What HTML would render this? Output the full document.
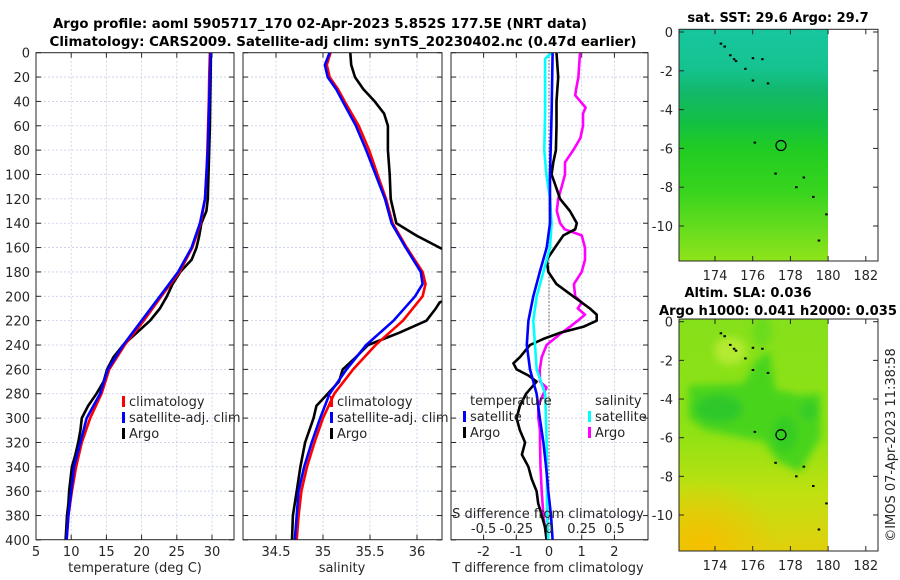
<!DOCTYPE html>
<html><head><meta charset="utf-8"><style>
html,body{margin:0;padding:0;background:#fff;}
svg{display:block;font-family:"DejaVu Sans","Liberation Sans",sans-serif;}
</style></head><body>
<svg id="chart" width="900" height="580" viewBox="0 0 900 580" xmlns="http://www.w3.org/2000/svg">
<defs>
<clipPath id="c1"><rect x="36" y="52.7" width="198" height="487"/></clipPath>
<clipPath id="c2"><rect x="243" y="52.7" width="199" height="487"/></clipPath>
<clipPath id="c3"><rect x="451" y="52.7" width="197" height="487"/></clipPath>
<clipPath id="cm1"><rect x="679" y="29.3" width="149" height="231.7"/></clipPath>
<clipPath id="cm2"><rect x="679" y="319" width="149" height="232"/></clipPath>
<linearGradient id="g1" x1="0" y1="0" x2="0" y2="1">
<stop offset="0" stop-color="#17c69e"/><stop offset="0.17" stop-color="#15c390"/>
<stop offset="0.27" stop-color="#12b86a"/><stop offset="0.4" stop-color="#12c044"/>
<stop offset="0.52" stop-color="#22cc22"/><stop offset="0.7" stop-color="#38d41e"/>
<stop offset="0.86" stop-color="#66dc1e"/><stop offset="1" stop-color="#90e41a"/>
</linearGradient>
<linearGradient id="g2" x1="0" y1="0" x2="0" y2="1">
<stop offset="0" stop-color="#86e01a"/><stop offset="0.5" stop-color="#90e214"/>
<stop offset="0.75" stop-color="#c0e010"/><stop offset="1" stop-color="#e0d00c"/>
</linearGradient>
<radialGradient id="g3" cx="0.15" cy="0.95" r="0.5">
<stop offset="0" stop-color="#f4c000"/><stop offset="1" stop-color="#f4c000" stop-opacity="0"/>
</radialGradient>
<filter id="blur"><feGaussianBlur stdDeviation="4"/></filter>
</defs>
<g id="root"></g>
</svg>
<script>
// ---------- data ----------
const depthClim = [0,20,40,60,80,100,120,140,160,180,200,220,240,260,280,300,320,340,360,380,400];
const climT = [29.7,29.6,29.55,29.45,29.35,29.2,29.0,28.4,27.2,25.4,22.8,20.3,17.6,15.4,14.3,12.7,11.5,10.7,10.1,9.6,9.35];
const satT = [29.8,29.7,29.6,29.5,29.4,29.2,29.0,28.3,27.1,25.2,22.6,20.0,17.4,15.2,14.1,12.2,11.3,10.4,10.0,9.6,9.35];
const depthArgoT = [0,20,40,60,80,100,120,130,140,150,160,170,180,190,200,210,220,230,240,250,260,270,280,290,300,310,320,330,340,350,360,370,380,390,400];
const argoT = [29.85,29.8,29.75,29.7,29.6,29.5,29.4,29.2,28.5,28.2,27.8,27.1,25.5,24.4,23.6,22.6,21.2,19.3,17.4,16.0,15.1,14.6,13.6,12.4,11.5,11.3,11.0,10.6,10.1,9.9,9.7,9.6,9.4,9.3,9.2];

const depthS = [0,10,20,30,40,60,80,100,120,140,160,180,190,200,220,240,260,280,300,320,340,360,380,400];
const satS = [35.07,35.02,35.05,35.14,35.21,35.35,35.46,35.56,35.66,35.73,35.88,36.04,36.06,35.98,35.75,35.46,35.25,35.07,34.97,34.88,34.80,34.74,34.72,34.70];
const climS = [35.08,35.04,35.07,35.16,35.23,35.38,35.49,35.58,35.67,35.74,35.89,36.06,36.09,36.06,35.85,35.56,35.32,35.12,35.0,34.91,34.83,34.77,34.74,34.72];
const depthArgoS = [0,10,20,30,40,50,60,80,100,120,140,150,160,170,180,190,200,205,210,220,230,240,250,260,270,280,290,300,320,340,360,380,400];
const argoS = [35.29,35.30,35.34,35.43,35.55,35.65,35.69,35.69,35.71,35.72,35.78,35.99,36.24,36.5,36.6,36.6,36.4,36.24,36.2,36.1,35.81,35.48,35.35,35.21,35.17,35.05,34.93,34.9,34.81,34.76,34.72,34.68,34.67];

const depthDT = [0,20,40,60,80,90,100,110,120,130,140,145,150,160,170,180,190,200,210,215,220,225,230,235,240,250,255,260,265,270,280,290,300,310,320,330,340,350,360,370,380,390,400];
const argoDT = [0.23,0.28,0.23,0.23,0.21,0.13,0.08,0.21,0.34,0.64,0.85,0.80,0.44,0.18,-0.07,-0.02,0.23,0.74,1.25,1.46,1.46,1.05,0.34,-0.17,-0.58,-0.89,-1.09,-0.99,-0.63,-0.38,-0.7,-0.89,-0.99,-0.89,-0.73,-0.83,-0.63,-0.53,-0.38,-0.33,-0.22,-0.12,-0.07];
const depthSatDT = [0,50,100,140,160,180,200,220,240,260,280,300,320,340,360,380,400];
const satDT = [0.11,0.08,0.03,0.03,-0.07,-0.28,-0.48,-0.63,-0.68,-0.58,-0.38,-0.28,-0.17,-0.09,-0.02,0.06,0.11];
const depthSatDS = [0,5,20,50,80,100,120,140,160,180,200,220,240,260,280,300,320,340,360,380,400];
const satDS = [0.02,-0.03,-0.03,-0.03,-0.036,-0.02,0.008,0.02,0.008,-0.043,-0.094,-0.12,-0.107,-0.094,-0.03,-0.023,-0.018,-0.015,-0.015,-0.015,-0.005];
const depthArgoDS = [0,20,30,35,45,50,60,70,80,90,100,110,120,130,140,145,150,160,170,180,190,200,205,210,215,220,225,230,240,250,260,270,275,280,290,300,310,320,340,360,380,400];
const argoDS = [0.237,0.225,0.207,0.2,0.28,0.26,0.26,0.24,0.186,0.122,0.122,0.097,0.07,0.06,0.085,0.12,0.25,0.275,0.275,0.25,0.19,0.2,0.25,0.22,0.275,0.22,0.16,0.097,-0.018,-0.056,-0.07,-0.069,-0.018,-0.043,-0.082,-0.082,-0.069,-0.069,-0.065,-0.056,-0.043,-0.018];

const depthTicks = [0,20,40,60,80,100,120,140,160,180,200,220,240,260,280,300,320,340,360,380,400];
const tempTicks = [5,10,15,20,25,30];
const salTicks = [34.5,35,35.5,36];
const dTTicks = [-2,-1,0,1,2];
const dSTickLabels = ['-0.5','-0.25','0','0.25','0.5'];
const dSTicks = [-0.5,-0.25,0,0.25,0.5];
const latTicks = [0,-2,-4,-6,-8,-10];
const lonTicks = [174,176,178,180,182];
const argoPos = [177.5,-5.85];
const coastDots = [[174.3,-0.6],[174.5,-0.75],[174.8,-1.2],[175.0,-1.4],[175.1,-1.5],[176.0,-1.35],[176.5,-1.4],[175.6,-1.9],[176.0,-2.5],[176.8,-2.65],[176.1,-5.7],[177.2,-7.3],[178.7,-7.5],[178.3,-8.0],[179.2,-8.5],[179.9,-9.4],[179.5,-10.75]];

// ---------- scales ----------
const yD = d => 52.7 + d*1.218;
const xT = t => 36 + (t-5)*7.04;
const xS = s => 276 + (s-34.5)*94;
const xDT = t => 549 + t*32.7;
const xDS = s => 549 + s*130.8;
const lonX = l => 715 + (l-174)*18.85;
const latY1 = a => 32 + (-a)*19.4;
const latY2 = a => 321.7 + (-a)*19.33;

const NS='http://www.w3.org/2000/svg';
const root=document.getElementById('root');
function mk(tag,attrs,parent){const e=document.createElementNS(NS,tag);for(const k in attrs)e.setAttribute(k,attrs[k]);(parent||root).appendChild(e);return e;}
function txt(s,x,y,opt,parent){const e=mk('text',Object.assign({x:x,y:y,'font-size':13,fill:'#262626'},opt||{}),parent);e.textContent=s;return e;}

function panel(name,x0,x1,clip,xticks,xf,labels){
  const g=mk('g',{});
  
  
  const y0=52.7,y1=539.7;
  xticks.forEach(t=>{const l=mk('line',{x1:xf(t),x2:xf(t),y1:y0,y2:y1,stroke:'#c4cde8','stroke-width':0.8,'stroke-dasharray':'2,2'},g);});
  depthTicks.forEach(d=>{const l=mk('line',{x1:x0,x2:x1,y1:yD(d),y2:yD(d),stroke:'#c4cde8','stroke-width':0.8,'stroke-dasharray':'2,2'},g);
    mk('line',{x1:x0,x2:x0+5,y1:yD(d),y2:yD(d),stroke:'#262626'},g);mk('line',{x1:x1-5,x2:x1,y1:yD(d),y2:yD(d),stroke:'#262626'},g);});
  xticks.forEach((t,i)=>{mk('line',{x1:xf(t),x2:xf(t),y1:y1-5,y2:y1,stroke:'#262626'},g);mk('line',{x1:xf(t),x2:xf(t),y1:y0,y2:y0+5,stroke:'#262626'},g);
    const tl=txt(labels[i],xf(t),556,{'text-anchor':'middle'},g);});
  const inner=mk('g',{'clip-path':'url(#'+clip+')'},g);
  return {g:g,inner:inner,frame:()=>mk('rect',{x:x0,y:y0,width:x1-x0,height:y1-y0,fill:'none',stroke:'#262626','stroke-width':1},g)};
}
function line(parent,name,xs,ds,xf,color,w){
  const pts=xs.map((v,i)=>xf(v).toFixed(1)+','+yD(ds[i]).toFixed(1)).join(' ');
  const p=mk('polyline',{points:pts,fill:'none',stroke:color,'stroke-width':w||2.6,'stroke-linejoin':'round'},parent);
  
  
}
function legend(parent,x,y,items){
  items.forEach((it,i)=>{mk('rect',{x:x,y:y+i*16-10,width:3,height:11,fill:it[1]},parent);
    const t=txt(it[0],x+7,y+i*16,{},parent);});
}

// titles
let t=txt('Argo profile: aoml 5905717_170 02-Apr-2023 5.852S 177.5E (NRT data)',320,28,{'text-anchor':'middle','font-weight':'bold','fill':'#000',textLength:534,lengthAdjust:'spacingAndGlyphs'});

t=txt('Climatology: CARS2009. Satellite-adj clim: synTS_20230402.nc (0.47d earlier)',343,46,{'text-anchor':'middle','font-weight':'bold','fill':'#000',textLength:587,lengthAdjust:'spacingAndGlyphs'});


// panel 1
const p1=panel('temperature-panel',36,234,'c1',tempTicks,xT,tempTicks.map(String));
depthTicks.forEach(d=>{const l=txt(String(d),30,yD(d)+5,{'text-anchor':'end'});});
line(p1.inner,'argo-temperature-line',argoT,depthArgoT,xT,'#000');
line(p1.inner,'climatology-temperature-line',climT,depthClim,xT,'#f00');
line(p1.inner,'satellite-temperature-line',satT,depthClim,xT,'#00f');
p1.frame();
t=txt('temperature (deg C)',135,572,{'text-anchor':'middle'});
legend(p1.g,122,406,[['climatology','#f00'],['satellite-adj. clim','#00f'],['Argo','#000']]);

// panel 2
const p2=panel('salinity-panel',243,442,'c2',salTicks,xS,['34.5','35','35.5','36']);
line(p2.inner,'argo-salinity-line',argoS,depthArgoS,xS,'#000');
line(p2.inner,'climatology-salinity-line',climS,depthS,xS,'#f00');
line(p2.inner,'satellite-salinity-line',satS,depthS,xS,'#00f');
p2.frame();
t=txt('salinity',342,572,{'text-anchor':'middle'});
legend(p2.g,330,406,[['climatology','#f00'],['satellite-adj. clim','#00f'],['Argo','#000']]);

// panel 3
const p3=panel('difference-panel',451,648,'c3',dTTicks,xDT,dTTicks.map(String));
mk('line',{x1:xDT(0),x2:xDT(0),y1:52.7,y2:539.7,stroke:'#555','stroke-width':1,'stroke-dasharray':'1.5,2'},p3.inner);
line(p3.inner,'argo-salinity-diff-line',argoDS,depthArgoDS,xDS,'#f0f');
line(p3.inner,'argo-temperature-diff-line',argoDT,depthDT,xDT,'#000');
line(p3.inner,'satellite-salinity-diff-line',satDS,depthSatDS,xDS,'#0ff');
line(p3.inner,'satellite-temperature-diff-line',satDT,depthSatDT,xDT,'#00f');
p3.frame();
dSTicks.forEach((s,i)=>{const l=txt(dSTickLabels[i],xDS(s),533,{'text-anchor':'middle'},p3.g);});
t=txt('S difference from climatology',548,518,{'text-anchor':'middle'},p3.g);
t=txt('T difference from climatology',548,572,{'text-anchor':'middle'});
t=txt('temperature',470,405,{},p3.g);
t=txt('salinity',595,405,{},p3.g);
legend(p3.g,463,421,[['satellite','#00f'],['Argo','#000']]);
legend(p3.g,588,421,[['satellite','#0ff'],['Argo','#f0f']]);

// maps
function map(name,latY,top,bottom,fillFn,labelY){
  const g=mk('g',{});
  
  
  const clip=mk('g',{'clip-path':'url(#'+(latY===latY1?'cm1':'cm2')+')'},g);
  fillFn(clip);
  coastDots.forEach(c=>{const r=mk('rect',{x:lonX(c[0])-1,y:latY(c[1])-1,width:2.5,height:2,fill:'#000'},g);});
  const c=mk('circle',{cx:lonX(argoPos[0]),cy:latY(argoPos[1]),r:5,fill:'none',stroke:'#000','stroke-width':1.2},g);
  
  mk('rect',{x:679,y:top,width:199,height:bottom-top,fill:'none',stroke:'#262626'},g);
  latTicks.forEach(a=>{mk('line',{x1:679,x2:684,y1:latY(a),y2:latY(a),stroke:'#262626'},g);mk('line',{x1:873,x2:878,y1:latY(a),y2:latY(a),stroke:'#262626'},g);
    const l=txt(String(a),673,latY(a)+5,{'text-anchor':'end'},g);});
  lonTicks.forEach(o=>{mk('line',{x1:lonX(o),x2:lonX(o),y1:bottom-5,y2:bottom,stroke:'#262626'},g);mk('line',{x1:lonX(o),x2:lonX(o),y1:top,y2:top+5,stroke:'#262626'},g);
    const l=txt(String(o),lonX(o),labelY,{'text-anchor':'middle'},g);});
  return g;
}
map('sst-map',latY1,29.3,261,p=>{mk('rect',{x:679,y:29.3,width:149,height:232,fill:'url(#g1)'},p);},280);
map('sla-map',latY2,319,551,p=>{
  mk('rect',{x:679,y:319,width:149,height:232,fill:'url(#g2)'},p);
  mk('rect',{x:679,y:420,width:149,height:131,fill:'url(#g3)'},p);
  const fg=mk('g',{filter:'url(#blur)'},p);
  mk('path',{d:`M${lonX(172.6)},${latY2(-3.3)} L${lonX(175.5)},${latY2(-3.2)} L${lonX(176.2)},${latY2(-2)} L${lonX(176.9)},${latY2(-1.5)} L${lonX(177.2)},${latY2(-3.5)} L${lonX(178.5)},${latY2(-3.8)} L${lonX(179.6)},${latY2(-3.7)} L${lonX(179.6)},${latY2(-6)} L${lonX(178.5)},${latY2(-7.8)} L${lonX(177.3)},${latY2(-7.2)} L${lonX(176.6)},${latY2(-6.2)} L${lonX(175.5)},${latY2(-6)} L${lonX(173.5)},${latY2(-5.6)} L${lonX(172.6)},${latY2(-5)} Z`,fill:'#48d41c'},fg);
  mk('ellipse',{cx:lonX(174.2),cy:latY2(-4.5),rx:24,ry:14,fill:'#2ec82a'},fg);
  mk('ellipse',{cx:lonX(177.7),cy:latY2(-5.8),rx:12,ry:18,fill:'#34cc24'},fg);
  mk('ellipse',{cx:lonX(179.0),cy:latY2(-4.6),rx:9,ry:10,fill:'#34cc28'},fg);
  mk('ellipse',{cx:lonX(176.5),cy:latY2(-0.5),rx:10,ry:16,fill:'#6adc1c'},fg);
  mk('ellipse',{cx:lonX(174.8),cy:latY2(-1.5),rx:16,ry:14,fill:'#b4ea30'},fg);
},570);
t=txt('sat. SST: 29.6 Argo: 29.7',778,22,{'text-anchor':'middle','font-weight':'bold','fill':'#000'});
t=txt('Altim. SLA: 0.036',748,297,{'text-anchor':'middle','font-weight':'bold','fill':'#000'});
t=txt('Argo h1000: 0.041 h2000: 0.035',778,315,{'text-anchor':'middle','font-weight':'bold','fill':'#000',textLength:238,lengthAdjust:'spacingAndGlyphs'});
t=txt('©IMOS 07-Apr-2023 11:38:58',0,0,{'text-anchor':'middle',transform:'translate(895,445) rotate(-90)'});
</script>
</body></html>
